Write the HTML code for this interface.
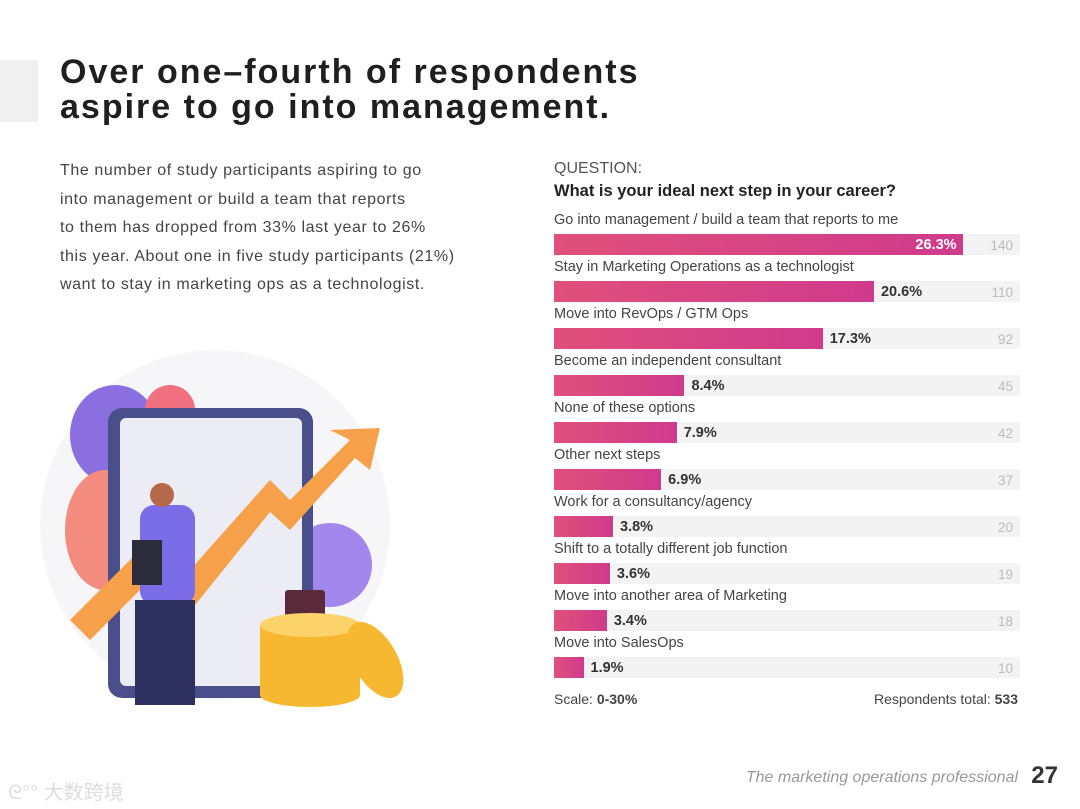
<!DOCTYPE html>
<html><head><meta charset="utf-8"><style>
body{margin:0;width:1080px;height:809px;background:#fff;font-family:"Liberation Sans","Noto Sans CJK SC",sans-serif;position:relative;overflow:hidden}
.abs{position:absolute}
</style></head><body>
<div class="abs" style="left:0;top:60px;width:38px;height:62px;background:#f0f0f0"></div>
<div class="abs" style="left:60px;top:55px;font-size:34px;font-weight:bold;color:#1f1f1f;line-height:35px;letter-spacing:2px">Over one–fourth of respondents<br>aspire to go into management.</div>
<div class="abs" style="left:60px;top:157px;font-size:16px;line-height:28.5px;color:#444;white-space:nowrap;letter-spacing:0.6px">The number of study participants aspiring to go<br>into management or build a team that reports<br>to them has dropped from 33% last year to 26%<br>this year. About one in five study participants (21%)<br>want to stay in marketing ops as a technologist.</div>

<svg class="abs" style="left:40px;top:340px" width="400" height="390" viewBox="0 0 400 390">
<circle cx="175" cy="185" r="175" fill="#f6f6f8"/>
<ellipse cx="75" cy="95" rx="45" ry="50" fill="#8b6fe0"/>
<ellipse cx="130" cy="70" rx="25" ry="25" fill="#f07080"/>
<ellipse cx="65" cy="190" rx="40" ry="60" fill="#f38b7f"/>
<ellipse cx="290" cy="225" rx="42" ry="42" fill="#a487ec"/>
<rect x="68" y="68" width="205" height="290" rx="14" fill="#4a4e8a"/>
<rect x="80" y="78" width="182" height="268" rx="6" fill="#ececf5"/>
<path d="M30 280 L110 200 L150 230 L230 140 L250 160 L310 100 L290 90 L340 88 L330 130 L315 118 L250 190 L230 172 L155 265 L115 235 L50 300 Z" fill="#f7a04a"/>
<rect x="245" y="250" width="40" height="32" rx="3" fill="#5a2a3a"/>
<g fill="#f5b830"><ellipse cx="270" cy="355" rx="50" ry="12"/><rect x="220" y="285" width="100" height="70"/><ellipse cx="270" cy="285" rx="50" ry="12" fill="#fbd36a"/></g>
<ellipse cx="335" cy="320" rx="22" ry="42" fill="#f5b830" transform="rotate(-30 335 320)"/>
<rect x="100" y="165" width="55" height="100" rx="14" fill="#7b6de8"/>
<rect x="95" y="260" width="60" height="105" fill="#2e3060"/>
<circle cx="122" cy="155" r="12" fill="#b5694a"/>
<rect x="92" y="200" width="30" height="45" fill="#2b2b3b"/>
</svg>

<div class="abs" style="left:554px;top:160px;font-size:16px;color:#555">QUESTION:</div>
<div class="abs" style="left:554px;top:182px;font-size:16.5px;font-weight:bold;color:#222">What is your ideal next step in your career?</div>
<div id="chart"></div>
<div class="abs" style="left:554px;top:691px;font-size:14px;color:#444">Scale: <b>0-30%</b></div>
<div class="abs" style="right:62px;top:691px;font-size:14px;color:#444">Respondents total: <b>533</b></div>

<div class="abs" style="left:8px;top:776px;font-size:20px;color:#ddd">ᘓ°° 大数跨境</div>
<div class="abs" style="right:62px;top:769px;font-size:16px;font-style:italic;color:#999">The marketing operations professional</div>
<div class="abs" style="right:22px;top:762px;font-size:24px;font-weight:bold;color:#333">27</div>

<script>
const categories=["Go into management / build a team that reports to me","Stay in Marketing Operations as a technologist","Move into RevOps / GTM Ops","Become an independent consultant","None of these options","Other next steps","Work for a consultancy/agency","Shift to a totally different job function","Move into another area of Marketing","Move into SalesOps"];
const percents=[26.3,20.6,17.3,8.4,7.9,6.9,3.8,3.6,3.4,1.9];
const counts=[140,110,92,45,42,37,20,19,18,10];
const scaleMax=30;
const x0=554,trackW=466,top0=212,pitch=47;
const xs=v=>v/scaleMax*trackW;
const c=document.getElementById('chart');
categories.forEach((cat,i)=>{
 const y=top0+i*pitch;
 const lab=document.createElement('div');
 
 
 lab.className='abs';lab.style.cssText=`left:${x0}px;top:${y}px;font-size:14.5px;color:#444;white-space:nowrap`;
 lab.textContent=cat;c.appendChild(lab);
 const tr=document.createElement('div');
 
 
 tr.className='abs';tr.style.cssText=`left:${x0}px;top:${y+22}px;width:${trackW}px;height:21px;background:#f3f3f3`;
 c.appendChild(tr);
 const w=xs(percents[i]);
 const b=document.createElement('div');
 
 
 b.className='abs';b.style.cssText=`left:${x0}px;top:${y+22}px;width:${w}px;height:21px;background:linear-gradient(90deg,#e0507a,#d03a8c)`;
 c.appendChild(b);
 const v=document.createElement('div');
 
 
 v.className='abs';
 const inside=percents[i]>25;
 v.style.cssText=inside?`right:${1080-x0-w+6}px;top:${y+25}px;font-size:14.5px;font-weight:bold;color:#fff`:`left:${x0+w+7}px;top:${y+25}px;font-size:14.5px;font-weight:bold;color:#333`;
 v.textContent=percents[i].toFixed(1)+'%';c.appendChild(v);
 const n=document.createElement('div');
 
 
 n.className='abs';n.style.cssText=`right:${1080-1013}px;top:${y+26}px;font-size:13.5px;color:#bbb`;
 n.textContent=counts[i];c.appendChild(n);
});
</script>
</body></html>
